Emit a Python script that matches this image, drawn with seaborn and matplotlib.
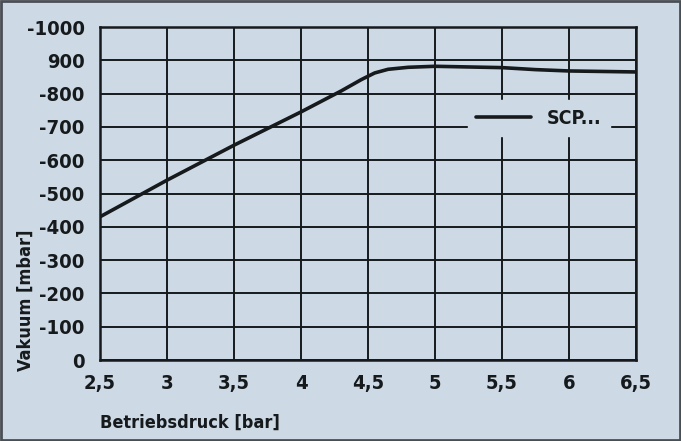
import matplotlib
matplotlib.use('Agg')

import pandas as pd
import seaborn as sns
from matplotlib import pyplot as plt
from matplotlib.patches import Rectangle

# data
druck = [2.5, 3.0, 3.5, 4.0, 4.3, 4.45, 4.55, 4.65, 4.8, 5.0, 5.5, 5.75, 6.0, 6.5]
vakuum = [-430, -540, -645, -745, -808, -842, -862, -873, -879, -882, -878, -872, -868, -865]
x_ticks = [2.5, 3, 3.5, 4, 4.5, 5, 5.5, 6, 6.5]
x_labels = ["2,5", "3", "3,5", "4", "4,5", "5", "5,5", "6", "6,5"]
y_ticks = [0, -100, -200, -300, -400, -500, -600, -700, -800, -900, -1000]
y_labels = ["0", "-100", "-200", "-300", "-400", "-500", "-600", "-700", "-800", "900", "-1000"]

BG = "#cddae6"
INK = "#161a1c"

sns.set_theme(style="whitegrid")
plt.rcParams['font.family'] = ['DejaVu Sans']
plt.rcParams['font.stretch'] = 'condensed'
plt.rcParams['font.weight'] = 'bold'

df = pd.DataFrame({"Betriebsdruck": druck, "Vakuum": vakuum})

fig = plt.figure(figsize=(6.81, 4.41), dpi=100, facecolor=BG)
ax = fig.add_axes([100 / 681, 1 - 360 / 441, 536 / 681, 333 / 441])
ax.set_facecolor(BG)

sns.lineplot(data=df, x="Betriebsdruck", y="Vakuum", ax=ax, color=INK,
             linewidth=2.6, label="SCP...")

ax.set_xlim(2.5, 6.5)
ax.set_ylim(0, -1000)
ax.set_xticks(x_ticks)
ax.set_xticklabels(x_labels, fontsize=14.5, color=INK, fontweight='bold')
ax.set_yticks(y_ticks)
ax.set_yticklabels(y_labels, fontsize=14.5, color=INK, fontweight='bold')
ax.tick_params(axis='both', length=0)
ax.tick_params(axis='x', pad=10)
ax.tick_params(axis='y', pad=11)

ax.grid(True, color=INK, linewidth=1.4)
for s in ax.spines.values():
    s.set_visible(True)
    s.set_color(INK)
    s.set_linewidth(1.8)

ax.set_xlabel("Betriebsdruck [bar]", fontsize=13, color=INK, fontweight='bold', loc='left')
ax.xaxis.set_label_coords(0.0, -0.16)
ax.set_ylabel("Vakuum [mbar]", fontsize=13, color=INK, fontweight='bold')
ax.yaxis.set_label_coords(-0.122, 0.18)

leg = ax.legend(loc='upper right', bbox_to_anchor=(0.951, 0.781), frameon=True,
                fontsize=14, handlelength=2.8, handletextpad=0.8,
                borderpad=0.45, borderaxespad=0)
leg.get_frame().set_facecolor(BG)
leg.get_frame().set_edgecolor(BG)
leg.get_frame().set_alpha(1)
for t in leg.get_texts():
    t.set_color(INK)

# scanned page frame
fig.patches.append(Rectangle((0.002, 0.003), 0.996, 0.994, transform=fig.transFigure,
                             fill=False, edgecolor="#4a4f54", linewidth=2))

fig.savefig("out.png", dpi=100, facecolor=BG)
